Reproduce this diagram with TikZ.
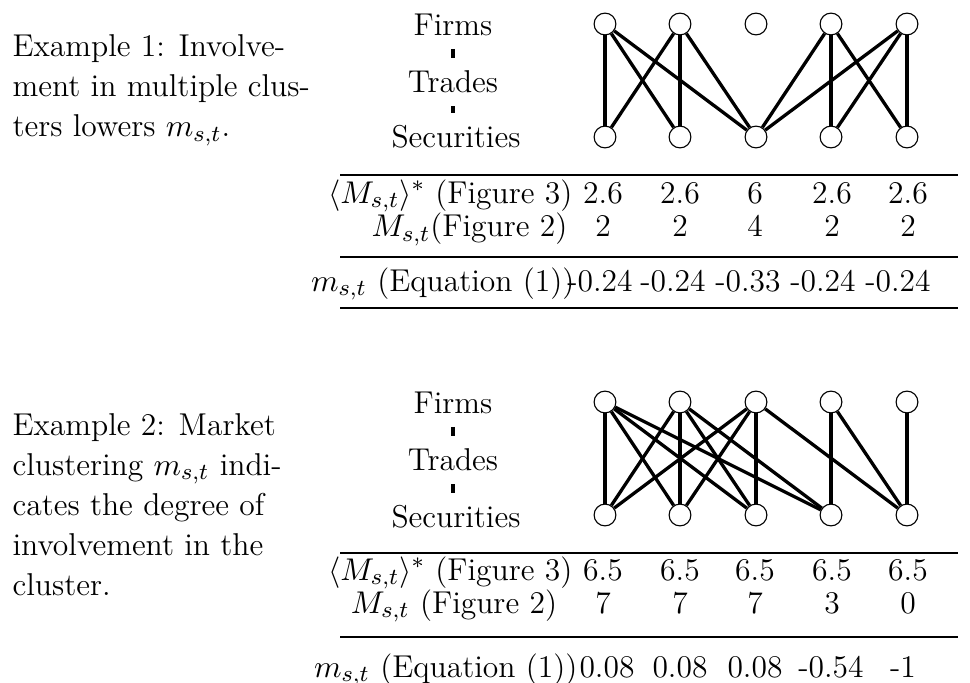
\documentclass[tikz,border=0pt]{standalone}
\usetikzlibrary{calc}
\begin{document}
\begin{tikzpicture}[x=0.3484pt,y=-0.3484pt,
  every node/.append style={font=\fontsize{11pt}{13.6pt}\selectfont},
  vtx/.style={circle,draw,line width=0.4pt,fill=white,minimum size=7.6pt,inner sep=0pt},
  edgeline/.style={line width=1.15pt},
  lbl/.style={inner sep=0pt},
  tickline/.style={line width=1.2pt,shorten <=4.3pt,shorten >=4.3pt},
  rulel/.style={line width=0.45pt},
  txt/.style={inner sep=0pt,anchor=base west},
  cell/.style={inner sep=0pt,anchor=base},
  rcell/.style={inner sep=0pt,anchor=base east}]
\useasboundingbox (0,0) rectangle (970,683);

% ---------------- Example 1 text ----------------
\node[txt] (e1a) at (12,57) {Example 1: Involve-};
\node[txt] (e1b) at (12,97) {ment in multiple clus-};
\node[txt] (e1c) at (12,137) {ters lowers $m_{s,t}$.};

% level labels 1
\node[lbl] (fa) at (453,25) {Firms};
\node[lbl] (ta) at (453,82) {Trades};
\node[lbl] (sa) at (456,137) {Securities};
\draw[tickline] (fa.south) -- (ta.north);
\draw[tickline] (ta.south) -- (ta.south |- sa.north);

% graph 1
\foreach \i/\x in {1/605,2/680,3/756,4/831,5/907}{
  \node[vtx] (f\i) at (\x,24) {};
  \node[vtx] (s\i) at (\x,137) {};
}
\foreach \a/\b in {1/1,1/2,1/3,2/1,2/2,2/3,4/3,4/4,4/5,5/3,5/4,5/5}{
  \draw[edgeline] (f\a) -- (s\b);
}

% table 1
\draw[rulel] (340,175) -- (958,175);
\draw[rulel] (340,257) -- (958,257);
\draw[rulel] (340,308) -- (958,308);
\node[rcell] (r1a) at (573,203) {$\langle M_{s,t}\rangle^*$ (Figure 3)};
\node[rcell] (r2a) at (568,237) {$M_{s,t}$(Figure 2)};
\node[rcell] (r3a) at (575,291) {$m_{s,t}$ (Equation (1))};
\foreach \x/\v in {603/2.6,680/2.6,755/6,832/2.6,908/2.6}{
  \node[cell] at (\x,203) {\v};
}
\foreach \x/\v in {603/2,680/2,755/4,832/2,908/2}{
  \node[cell] at (\x,237) {\v};
}
\foreach \x/\v in {600/-0.24,673/-0.24,748/-0.33,823/-0.24,898/-0.24}{
  \node[cell] at (\x,291) {\v};
}

% ---------------- Example 2 text ----------------
\node[txt] (e2a) at (12,435) {Example 2: Market};
\node[txt] (e2b) at (12,475) {clustering $m_{s,t}$ indi-};
\node[txt] (e2c) at (12,515) {cates the degree of};
\node[txt] (e2d) at (12,555) {involvement in the};
\node[txt] (e2e) at (12,595) {cluster.};

% level labels 2
\node[lbl] (fb) at (453,403) {Firms};
\node[lbl] (tb) at (453,460) {Trades};
\node[lbl] (sb) at (456,517) {Securities};
\draw[tickline] (fb.south) -- (tb.north);
\draw[tickline] (tb.south) -- (tb.south |- sb.north);

% graph 2
\foreach \i/\x in {1/605,2/680,3/756,4/831,5/907}{
  \node[vtx] (g\i) at (\x,402) {};
  \node[vtx] (h\i) at (\x,515) {};
}
\foreach \a/\b in {1/1,1/2,1/3,1/4,2/1,2/2,2/3,2/4,3/1,3/2,3/3,3/5,4/4,4/5,5/5}{
  \draw[edgeline] (g\a) -- (h\b);
}

% table 2
\draw[rulel] (340,553) -- (958,553);
\draw[rulel] (340,637) -- (958,637);
\node[rcell] (r1b) at (573,580) {$\langle M_{s,t}\rangle^*$ (Figure 3)};
\node[cell] (r2b) at (454,613) {$M_{s,t}$ (Figure 2)};
\node[rcell] (r3b) at (578,677) {$m_{s,t}$ (Equation (1))};
\foreach \x/\v in {603/6.5,680/6.5,755/6.5,832/6.5,908/6.5}{
  \node[cell] at (\x,580) {\v};
}
\foreach \x/\v in {603/7,680/7,755/7,832/3,908/0}{
  \node[cell] at (\x,613) {\v};
}
\foreach \x/\v in {607/0.08,680/0.08,755/0.08,831/-0.54,903/-1}{
  \node[cell] at (\x,677) {\v};
}
\end{tikzpicture}
\end{document}
